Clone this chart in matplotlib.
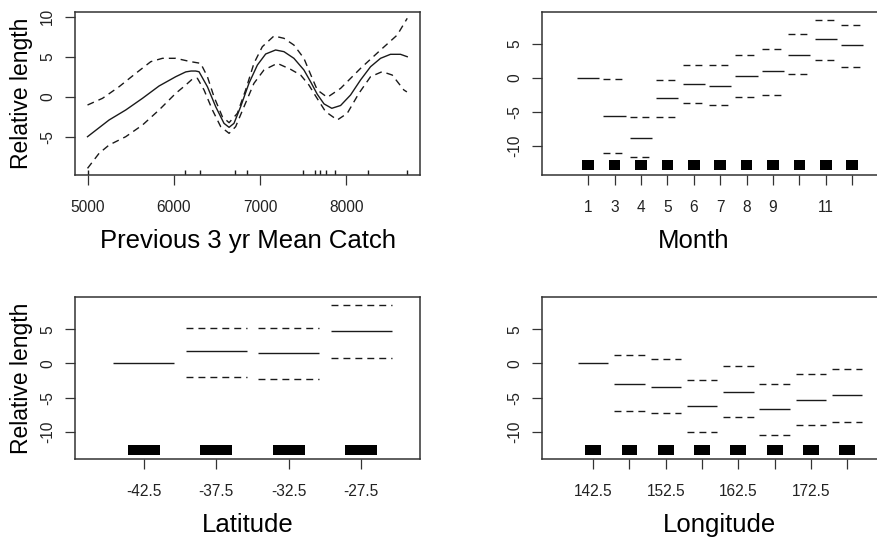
import matplotlib
matplotlib.use("Agg")
import matplotlib.pyplot as plt
import numpy as np

plt.rcParams["font.family"] = ["Liberation Sans", "DejaVu Sans"]

# --- Previous 3 yr Mean Catch: smooth term with +/- 2 SE bands
fit_x = [5000, 5250, 5443, 5637, 5829, 6022, 6138, 6200, 6253, 6292, 6389, 6485, 6581,
         6640, 6697, 6774, 6870, 6968, 7064, 7179, 7276, 7391, 7507, 7584, 7662, 7740,
         7830, 7932, 8047, 8163, 8279, 8395, 8510, 8626, 8704]
fit_y = [-5.0, -2.91, -1.66, -0.2, 1.34, 2.5, 3.1, 3.21, 3.21, 3.12, 1.25, -1.25, -3.33,
         -3.83, -3.33, -1.25, 1.67, 3.96, 5.34, 5.84, 5.63, 4.8, 3.34, 1.88, 0.3, -0.9,
         -1.45, -1.1, 0.21, 2.09, 3.75, 4.8, 5.3, 5.3, 5.0]

upper_x = [5000, 5174, 5366, 5559, 5733, 5868, 6022, 6196, 6311, 6389, 6465, 6562, 6640,
           6736, 6832, 6928, 7025, 7160, 7276, 7391, 7507, 7584, 7662, 7778, 7932, 8163,
           8395, 8588, 8704]
upper_y = [-1.04, -0.2, 1.25, 2.92, 4.38, 4.8, 4.8, 4.38, 4.17, 2.5, 0.0, -2.5, -3.25,
           -2.08, 0.84, 4.17, 6.25, 7.59, 7.3, 6.46, 4.8, 2.8, 0.84, -0.08, 1.04, 3.54,
           5.84, 7.71, 9.8]

lower_x = [5000, 5134, 5250, 5443, 5637, 5829, 6022, 6138, 6215, 6273, 6350, 6447, 6543,
           6640, 6716, 6813, 6928, 7044, 7199, 7353, 7469, 7565, 7623, 7758, 7894, 8009,
           8144, 8279, 8414, 8530, 8665, 8700]
lower_y = [-8.96, -7.08, -6.04, -5.0, -3.54, -1.66, 0.42, 1.46, 2.21, 2.3, 0.84, -1.66,
           -3.75, -4.58, -3.75, -1.25, 1.67, 3.34, 4.17, 3.42, 2.71, 1.46, 0.42, -1.87,
           -2.91, -2.08, 0.42, 2.5, 3.13, 2.71, 0.84, 0.6]

catch_rug = [5000, 6128, 6303, 6708, 6852, 7500, 7631, 7692, 7764, 7868, 8244, 8704]
catch_ticks = [5000, 6000, 7000, 8000]

# --- Month factor term
month_levels = ["1", "3", "4", "5", "6", "7", "8", "9", "10", "11", "12"]
month_shown = ["1", "3", "4", "5", "6", "7", "8", "9", "", "11", ""]
month_fit = [0.0, -5.56, -8.78, -2.98, -0.88, -1.12, 0.24, 1.02, 3.41, 5.71, 4.83]
month_upper = [None, -0.2, -5.76, -0.34, 1.9, 1.9, 3.32, 4.29, 6.44, 8.54, 7.85]
month_lower = [None, -11.0, -11.6, -5.76, -3.66, -3.95, -2.73, -2.54, 0.54, 2.63, 1.66]

# --- Latitude factor term
lat_levels = ["-42.5", "-37.5", "-32.5", "-27.5"]
lat_fit = [0.0, 1.76, 1.46, 4.73]
lat_upper = [None, 5.22, 5.22, 8.54]
lat_lower = [None, -2.05, -2.24, 0.73]

# --- Longitude factor term
lon_levels = ["142.5", "147.5", "152.5", "157.5", "162.5", "167.5", "172.5", "177.5"]
lon_shown = ["142.5", "", "152.5", "", "162.5", "", "172.5", ""]
lon_fit = [0.0, -2.98, -3.46, -6.24, -4.2, -6.73, -5.32, -4.63]
lon_upper = [None, 1.22, 0.59, -2.49, -0.39, -2.98, -1.61, -0.83]
lon_lower = [None, -6.98, -7.22, -10.1, -7.85, -10.54, -9.07, -8.63]

LINE = "#1a1a1a"
FRAME = "#333333"
DASH = (0, (5.0, 3.6))
TICK_FS = 11.2
LAB_FS = 18.5


def style_axes(ax, yticks):
    for s in ax.spines.values():
        s.set_color(FRAME)
        s.set_linewidth(1.1)
    ax.tick_params(direction="out", length=7.2, width=0.9, color=FRAME,
                   labelsize=TICK_FS, labelcolor="#222222")
    ax.tick_params(axis="x", pad=10.5)
    ax.tick_params(axis="y", pad=7)
    ax.set_yticks(yticks)
    ax.set_yticklabels([str(v) for v in yticks], rotation=90, va="center")


def factor_panel(ax, levels, shown, fit, upper, lower, xlim, ylim, xlabel, xlab_pos):
    pos = np.arange(1, len(levels) + 1)
    hw = 0.42
    ax.hlines(fit, pos - hw, pos + hw, colors=LINE, linewidth=1.0)
    for p, u, l in zip(pos, upper, lower):
        if u is None:
            continue
        ax.hlines([u, l], p - hw, p + hw, colors=LINE, linewidth=1.0, linestyles=[DASH])
    # jittered rug, reads as a solid block per level
    ax.bar(pos, 0.062, bottom=0.028, width=0.44, color="black",
           transform=ax.get_xaxis_transform())
    ax.set_xticks(pos)
    ax.set_xticklabels(shown)
    ax.set_xlim(*xlim)
    ax.set_ylim(*ylim)
    style_axes(ax, [5, 0, -5, -10])
    ax.set_xlabel(xlabel, fontsize=LAB_FS, va="top")
    ax.xaxis.set_label_coords(xlab_pos, -0.33)


fig = plt.figure(figsize=(8.77, 5.44), dpi=100)

ax1 = fig.add_axes([0.08552, 0.67831, 0.39339, 0.29963])
ax2 = fig.add_axes([0.61767, 0.67831, 0.39339, 0.29963])
ax3 = fig.add_axes([0.08552, 0.15570, 0.39339, 0.29890])
ax4 = fig.add_axes([0.61767, 0.15570, 0.39339, 0.29890])

# top-left: smooth of catch
ax1.plot(fit_x, fit_y, color=LINE, linewidth=1.0)
ax1.plot(upper_x, upper_y, color=LINE, linewidth=1.0, linestyle=DASH)
ax1.plot(lower_x, lower_y, color=LINE, linewidth=1.0, linestyle=DASH)
ax1.vlines(catch_rug, 0, 0.03, colors=LINE, linewidth=1.0,
           transform=ax1.get_xaxis_transform())
ax1.set_xticks(catch_ticks)
ax1.set_xlim(4855, 8852)
ax1.set_ylim(-9.79, 10.59)
style_axes(ax1, [10, 5, 0, -5])
ax1.set_xlabel("Previous 3 yr Mean Catch", fontsize=LAB_FS, va="top")
ax1.xaxis.set_label_coords(0.5, -0.33)
ax1.set_ylabel("Relative length", fontsize=16.5)
ax1.yaxis.set_label_coords(-0.122, 0.5)

factor_panel(ax2, month_levels, month_shown, month_fit, month_upper, month_lower,
             (-0.76, 12.31), (-14.26, 9.71), "Month", 0.441)
factor_panel(ax3, lat_levels, lat_levels, lat_fit, lat_upper, lat_lower,
             (0.05, 4.81), (-14.04, 9.77), "Latitude", 0.5)
ax3.set_ylabel("Relative length", fontsize=16.5)
ax3.yaxis.set_label_coords(-0.122, 0.5)
factor_panel(ax4, lon_levels, lon_shown, lon_fit, lon_upper, lon_lower,
             (-0.42, 9.09), (-14.04, 9.77), "Longitude", 0.514)

fig.savefig("out.png", dpi=100)
